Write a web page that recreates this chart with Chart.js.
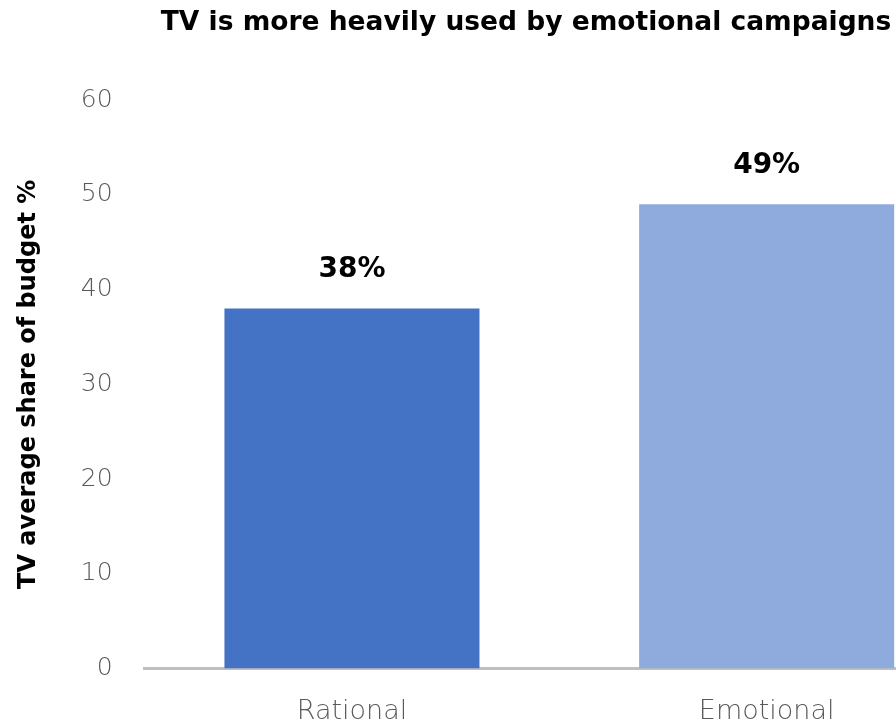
<!DOCTYPE html>
<html>
<head>
<meta charset="utf-8">
<script src="https://cdn.jsdelivr.net/npm/chart.js@4"></script>
<style>
  html, body { margin: 0; padding: 0; background: #fff; overflow: hidden; }
  #wrap { width: 1052px; height: 721px; }
</style>
</head>
<body>
<div id="wrap"><canvas id="chart"></canvas></div>
<script>
const chartTitle = 'TV is more heavily used by emotional campaigns';
const categories = ['Rational', 'Emotional'];
const budgetShare = [38, 49];
const barColors = ['#4472C4', '#8FAADC'];
const yTicks = [0, 10, 20, 30, 40, 50, 60];

// heading centred over the canvas
const heading = {
    id: 'heading',
    afterDraw(chart) {
        const ctx = chart.ctx;
        ctx.save();
        ctx.font = 'bold 26.5px "DejaVu Sans"';
        ctx.fillStyle = '#000';
        ctx.textAlign = 'center';
        ctx.textBaseline = 'middle';
        ctx.fillText(chartTitle, chart.width / 2, 23);
        ctx.restore();
    }
};

// value labels above each bar
const valueLabels = {
    id: 'valueLabels',
    afterDatasetsDraw(chart) {
        const ctx = chart.ctx;
        const meta = chart.getDatasetMeta(0);
        ctx.save();
        ctx.font = 'bold 28px "DejaVu Sans"';
        ctx.fillStyle = '#000';
        ctx.textAlign = 'center';
        ctx.textBaseline = 'middle';
        meta.data.forEach((bar, i) => {
            ctx.fillText(budgetShare[i] + '%', bar.x, bar.y - 39);
        });
        ctx.restore();
    }
};

new Chart(document.getElementById('chart'), {
    type: 'bar',
    data: {
        labels: categories,
        datasets: [{
            data: budgetShare,
            backgroundColor: barColors,
            borderWidth: 0,
            categoryPercentage: 0.615,
            barPercentage: 1
        }]
    },
    options: {
        responsive: true,
        maintainAspectRatio: false,
        animation: false,
        layout: { padding: { left: 14, right: 78, top: 100, bottom: -26 } },
        plugins: {
            legend: { display: false },
            tooltip: { enabled: false },
            title: { display: false }
        },
        scales: {
            x: {
                grid: { display: false },
                border: { color: '#BFBFBF', width: 3 },
                ticks: {
                    color: '#595959',
                    font: { family: 'DejaVu Sans', size: 27, weight: 200 },
                    padding: 19
                }
            },
            y: {
                min: 0,
                max: 60,
                afterBuildTicks(axis) {
                    axis.ticks = yTicks.map(v => ({ value: v }));
                },
                grid: { display: false },
                border: { display: false },
                ticks: {
                    color: '#595959',
                    font: { family: 'DejaVu Sans', size: 25, weight: 200 },
                    padding: 24
                },
                title: {
                    display: true,
                    text: 'TV average share of budget %',
                    color: '#000',
                    font: { family: 'DejaVu Sans', size: 24, weight: 'bold' },
                    padding: { top: 0, bottom: 14 }
                }
            }
        }
    },
    plugins: [valueLabels, heading]
});
</script>
</body>
</html>
